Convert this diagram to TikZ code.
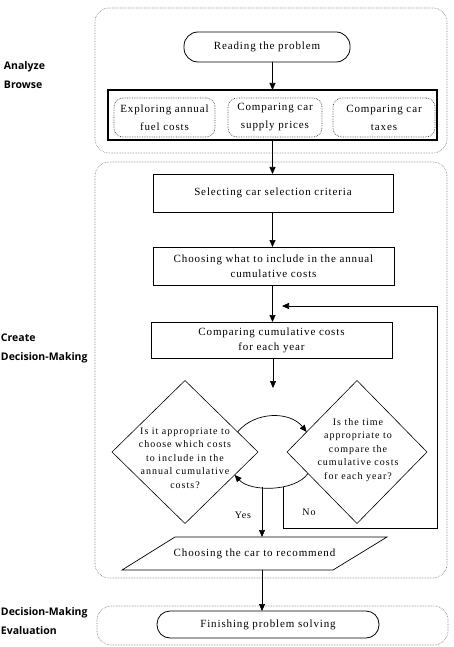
\documentclass[tikz,border=0pt]{standalone}
\usepackage{fontspec}
\setmainfont{Liberation Serif}[LetterSpace=8]
\newfontfamily\labfont{Open Sans}
\usetikzlibrary{arrows.meta,shapes.geometric,calc}
\begin{document}
\begin{tikzpicture}[x=1pt,y=-1pt,
  every node/.style={inner sep=0pt,outer sep=0pt},
  arr/.style={draw=black,line width=0.7pt,-{Triangle[length=7pt,width=6pt]}},
  ln/.style={draw=black,line width=0.7pt},
  phase/.style={draw=black!55,densely dotted,line width=0.6pt,rounded corners=14pt},
  sub/.style={draw=black!70,densely dotted,line width=0.7pt,rounded corners=9pt,align=center,font=\fontsize{11}{18}\selectfont},
  stepbox/.style={draw=black,line width=0.8pt,align=center,font=\fontsize{11}{15}\selectfont},
  stadium/.style={draw=black,line width=0.8pt,rounded corners=14pt,font=\fontsize{11}{15}\selectfont},
  dia/.style={draw=black,line width=0.6pt,diamond},
  dtext/.style={align=center,font=\fontsize{10}{13.4}\selectfont\addfontfeature{LetterSpace=10}},
  lab/.style={anchor=west,align=left,font=\labfont\bfseries\fontsize{10.5}{19}\selectfont}
]
\useasboundingbox (0,0) rectangle (454,647);
\fill[white] (0,0) rectangle (454,647);

% phase frames
\draw[phase] (95,8) rectangle (447,153);
\draw[phase] (95,162) rectangle (447,578);
\draw[phase] (97,606) rectangle (448,645);

% phase labels
\node[lab] (l1) at (4,75.5) {Analyze\\Browse};
\node[lab] (l2) at (1,348.5) {Create\\Decision-Making};
\node[lab] (l3) at (1,621) {Decision-Making\\Evaluation};

% nodes
\node[stadium,minimum width=166pt,minimum height=30pt] (read) at (267,47) {Reading the problem};
\node[draw=black,line width=1.5pt,minimum width=329pt,minimum height=50pt] (group) at (272.5,115) {};
\node[sub,minimum width=101pt,minimum height=39pt] (s1) at (164.5,117.5) {Exploring annual\\fuel costs};
\node[sub,minimum width=94pt,minimum height=39pt] (s2) at (275,117.5) {Comparing car\\supply prices};
\node[sub,minimum width=102pt,minimum height=39pt] (s3) at (384,117.5) {Comparing car\\taxes};

\node[stepbox,minimum width=240pt,minimum height=38pt] (sel) at (273,193) {Selecting car selection criteria};
\node[stepbox,minimum width=241pt,minimum height=38pt] (inc) at (273.5,266) {Choosing what to include in the annual\\cumulative costs};
\node[stepbox,minimum width=241pt,minimum height=36pt] (cmp) at (271.5,340) {Comparing cumulative costs\\for each year};

\node[dia,minimum width=146pt,minimum height=143pt] (d1) at (185,452) {};
\node[dtext] (d1t) at (185,458) {Is it appropriate to\\choose which costs\\to include in the\\annual cumulative\\costs?};
\node[dia,minimum width=140pt,minimum height=143pt] (d2) at (357,452) {};
\node[dtext] (d2t) at (358,450) {Is the time\\appropriate to\\compare the\\cumulative costs\\for each year?};

\node[minimum width=212pt,minimum height=33pt,font=\fontsize{11}{15}\selectfont] (para) at (254.5,553.5) {Choosing the car to recommend};
\draw[ln] (122,570) -- (175,537) -- (387,537) -- (333,570) -- cycle;

\node[stadium,minimum width=222pt,minimum height=27pt,rounded corners=13pt] (fin) at (268,624.5) {Finishing problem solving};

% connectors
\coordinate (gap) at (273,388);
\coordinate (yesstart) at (262,486.5);
\coordinate (nostart) at (283,487);
\coordinate (fbend) at (282,306);

\draw[arr] (group.north |- read.south) -- (group.north);
\draw[arr] (group.south) -- (sel.north -| group.south);
\draw[arr] (sel.south -| group.south) -- (inc.north -| group.south);
\draw[arr] (inc.south -| group.south) -- (cmp.north -| group.south);
\draw[arr] (cmp.south -| gap) -- (gap);

\draw[arr] ($(d1.north)!0.72!(d1.east)$) .. controls (255,411) and (290,411) .. ($(d2.north)!0.72!(d2.west)$);
\draw[arr] ($(d2.west)!0.3!(d2.south)$) .. controls (295,492) and (250,492) .. ($(d1.east)!0.32!(d1.south)$);

\draw[arr] (yesstart) -- (yesstart |- para.north);
\node[font=\fontsize{10}{12}\selectfont] (yes) at (243,515) {Yes};

\draw[arr] (nostart) -- (283,528) -- (437,528) -- (437,306) -- (fbend);
\node[font=\fontsize{10}{12}\selectfont] (no) at (309,512) {No};

\draw[arr] (yesstart |- para.south) -- (yesstart |- fin.north);
\end{tikzpicture}
\end{document}
